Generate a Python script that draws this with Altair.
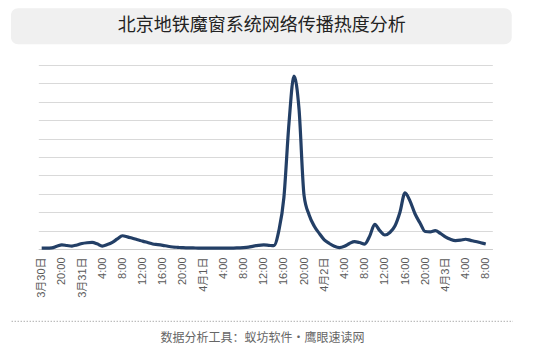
import json
import altair as alt
import pandas as pd

# Hourly heat index, 3/30 16:00 -> 4/3 08:00
heat = [
    0.5, 0.5, 0.6, 1.5, 2.2, 1.9, 1.6, 2.2, 3.0, 3.4,
    3.6, 2.8, 1.6, 2.4, 3.6, 5.5, 7.2, 6.6, 5.8, 5.0,
    4.3, 3.5, 2.7, 2.4, 2.0, 1.5, 1.1, 0.9, 0.7, 0.6,
    0.6, 0.5, 0.5, 0.5, 0.5, 0.5, 0.5, 0.5, 0.5, 0.6,
    0.7, 1.0, 1.6, 2.0, 2.2, 2.0, 1.8, 10.0, 28.0, 68.0,
    94.0, 76.0, 29.0, 18.5, 12.5, 8.5, 5.0, 3.0, 1.5, 0.8,
    1.5, 3.0, 4.0, 3.5, 2.7, 7.0, 13.4, 10.0, 7.6, 9.0,
    12.5, 20.0, 30.5, 26.0, 19.0, 14.0, 9.5, 9.3, 10.0, 8.5,
    6.6, 5.3, 4.6, 4.8, 5.3, 4.7, 4.1, 3.4, 2.7,
]
hours = list(range(len(heat)))

tick_labels = [
    "3月30日", "20:00", "3月31日", "4:00", "8:00", "12:00", "16:00", "20:00",
    "4月1日", "4:00", "8:00", "12:00", "16:00", "20:00",
    "4月2日", "4:00", "8:00", "12:00", "16:00", "20:00",
    "4月3日", "4:00", "8:00",
]
tick_hours = list(range(0, 4 * len(tick_labels), 4))

title_text = "北京地铁魔窗系统网络传播热度分析"
footer_text = "数据分析工具：蚁坊软件·鹰眼速读网"

df = pd.DataFrame({"h": hours, "v": heat})
FONT = "Liberation Sans, Noto Sans CJK SC"

line = alt.Chart(df).mark_line(
    interpolate="monotone", color="#233f66", strokeWidth=3.2
).encode(
    x=alt.X(
        "h:Q",
        scale=alt.Scale(domain=[-0.67, 89.3], nice=False, zero=False),
        axis=alt.Axis(
            values=tick_hours,
            labelExpr=f"{json.dumps(tick_labels, ensure_ascii=False)}[round(datum.value/4)]",
            labelAngle=270,
            labelFontSize=11,
            labelColor="#5a5a5a",
            labelFont=FONT,
            labelPadding=8,
            ticks=False,
            grid=False,
            domainColor="#cccccc",
            title=None,
            labelOverlap=False,
        ),
    ),
    y=alt.Y(
        "v:Q",
        scale=alt.Scale(domain=[0, 100], nice=False),
        axis=alt.Axis(
            values=list(range(0, 101, 10)),
            labels=False, ticks=False, domain=False, title=None,
            gridColor="#d9d9d9", gridWidth=1,
        ),
    ),
)

title_bg = alt.Chart(pd.DataFrame({"a": [0]})).mark_rect(
    fill="#f0f0f0", cornerRadius=7
).encode(
    x=alt.value(-27.3), x2=alt.value(473.4), y=alt.value(-56.7), y2=alt.value(-20.7)
)

title = alt.Chart(pd.DataFrame({"t": [title_text]})).mark_text(
    font="Noto Sans CJK SC", fontSize=18, color="#222222", align="center", baseline="middle"
).encode(text="t:N", x=alt.value(223.4), y=alt.value(-39))

sep = alt.Chart(pd.DataFrame({"a": [0]})).mark_rule(
    color="#888888", strokeDash=[1, 2], strokeWidth=1
).encode(x=alt.value(-26.6), x2=alt.value(474.7), y=alt.value(256.3))

footer = alt.Chart(pd.DataFrame({"t": [footer_text]})).mark_text(
    font="Noto Sans CJK SC", fontSize=12, color="#666666", align="center", baseline="middle"
).encode(text="t:N", x=alt.value(224.2), y=alt.value(273.3))

chart = alt.layer(title_bg, title, line, sep, footer).properties(
    width=454,
    height=184,
    padding={"left": 30.3, "top": 57, "right": 35.7, "bottom": 100},
    autosize=alt.AutoSizeParams(type="none"),
    background="white",
).configure_view(stroke=None)

chart.save("out.html", embed_options={"renderer": "svg", "actions": False})
